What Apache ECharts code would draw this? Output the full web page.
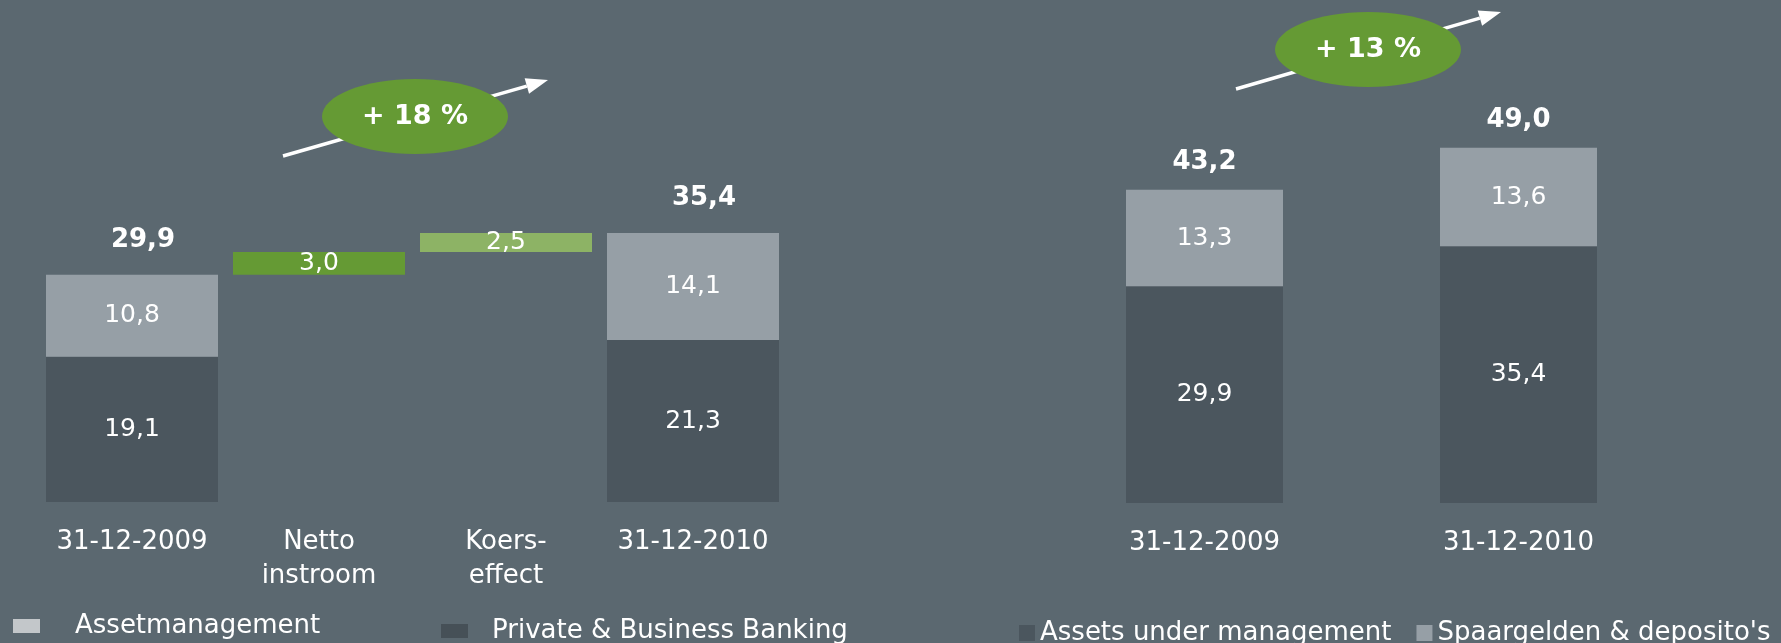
<!DOCTYPE html>
<html>
<head>
<meta charset="utf-8">
<script src="https://cdn.jsdelivr.net/npm/echarts@6/dist/echarts.min.js"></script>
<style>
  html, body { margin: 0; padding: 0; background: #5B6870; }
  #container { width: 1781px; height: 643px; }
</style>
</head>
<body>
<div id="container"></div>
<script>
// linker grafiek: vermogen per divisie + waterval
var leftCategories = ['31-12-2009', 'Netto\ninstroom', 'Koers-\neffect', '31-12-2010'];
var pbbValues = [19.1, '-', '-', 21.3];
var assetValues = [10.8, '-', '-', 14.1];
var changeValues = ['-', 3.0, 2.5, '-'];
var leftTotals = [29.9, '-', '-', 35.4];

// rechter grafiek
var rightCategories = ['31-12-2009', '31-12-2010'];
var aumValues = [29.9, 35.4];
var savingsValues = [13.3, 13.6];
var rightTotals = [43.2, 49.0];

var growthLabels = ['+ 18 %', '+ 13 %'];

// onzichtbare basis voor de watervalstappen
var baseValues = ['-', leftTotals[0], +(leftTotals[0] + changeValues[1]).toFixed(1), '-'];

var DARK = '#4B565E', LIGHT = '#969FA6', GREEN = '#659A34', LGREEN = '#8DB365';
var FONT = 'DejaVu Sans';

function fmt(p) {
    var v = typeof p.value === 'number' ? p.value : parseFloat(p.value);
    return v.toFixed(1).replace('.', ',');
}

var innerLabel = { show: true, position: 'inside', color: '#fff', fontSize: 25, fontFamily: FONT, formatter: fmt };

function arrow(x1, y1, x2, y2) {
    var a = Math.atan2(y2 - y1, x2 - x1);
    var len = 22, hw = 8;
    var bx = x2 - len * Math.cos(a), by = y2 - len * Math.sin(a);
    var px = -Math.sin(a) * hw, py = Math.cos(a) * hw;
    return [
        { type: 'line', z: 10, shape: { x1: x1, y1: y1, x2: bx, y2: by }, style: { stroke: '#fff', lineWidth: 3.5 } },
        { type: 'polygon', z: 10, shape: { points: [[x2, y2], [bx + px, by + py], [bx - px, by - py]] }, style: { fill: '#fff' } }
    ];
}

function bubble(cx, cy, text) {
    return [
        { type: 'ellipse', z: 11, shape: { cx: cx, cy: cy, rx: 93, ry: 37.5 }, style: { fill: GREEN } },
        { type: 'text', z: 12, style: { text: text, x: cx, y: cy, fill: '#fff', font: 'bold 27px "DejaVu Sans"',
            textAlign: 'center', textVerticalAlign: 'middle', align: 'center', verticalAlign: 'middle' } }
    ];
}

var dom = document.getElementById('container');
var myChart = echarts.init(dom);

var option = {
    backgroundColor: '#5B6870',
    animation: false,
    textStyle: { fontFamily: FONT },
    grid: [
        { left: 38.5, width: 748, top: 46, height: 456 },
        { left: 1047.5, width: 628, top: 68, height: 435 }
    ],
    xAxis: [
        {
            type: 'category', gridIndex: 0, data: leftCategories,
            axisLine: { show: false }, axisTick: { show: false },
            axisLabel: { color: '#fff', fontSize: 26, fontFamily: FONT, lineHeight: 34, margin: 23, interval: 0 }
        },
        {
            type: 'category', gridIndex: 1, data: rightCategories,
            axisLine: { show: false }, axisTick: { show: false },
            axisLabel: { color: '#fff', fontSize: 26, fontFamily: FONT, lineHeight: 34, margin: 23, interval: 0 }
        }
    ],
    yAxis: [
        { type: 'value', gridIndex: 0, min: 0, max: 60, show: false },
        { type: 'value', gridIndex: 1, min: 0, max: 60, show: false }
    ],
    legend: [
        {
            left: 13, top: 613, padding: 0, itemWidth: 27, itemHeight: 14, icon: 'rect',
            data: [{ name: 'Assetmanagement', itemStyle: { color: '#C3C7CA' } }],
            textStyle: { color: '#fff', fontSize: 26, fontFamily: FONT, padding: [0, 0, 0, 30] }
        },
        {
            left: 441, top: 618, padding: 0, itemWidth: 27, itemHeight: 14, icon: 'rect',
            data: [{ name: 'Private & Business Banking', itemStyle: { color: '#465057' } }],
            textStyle: { color: '#fff', fontSize: 26, fontFamily: FONT, padding: [0, 0, 0, 19] }
        },
        {
            left: 1019, top: 620, padding: 0, itemWidth: 16, itemHeight: 16, itemGap: 25, icon: 'rect',
            data: ['Assets under management', "Spaargelden & deposito's"],
            textStyle: { color: '#fff', fontSize: 26, fontFamily: FONT }
        }
    ],
    series: [
        {
            name: 'basis', type: 'bar', xAxisIndex: 0, yAxisIndex: 0, stack: 'links', barWidth: 172,
            data: baseValues, itemStyle: { color: 'rgba(0,0,0,0)' }, silent: true
        },
        {
            name: 'Private & Business Banking', type: 'bar', xAxisIndex: 0, yAxisIndex: 0, stack: 'links', barWidth: 172,
            data: pbbValues, itemStyle: { color: DARK }, label: innerLabel
        },
        {
            name: 'Assetmanagement', type: 'bar', xAxisIndex: 0, yAxisIndex: 0, stack: 'links', barWidth: 172,
            data: assetValues, itemStyle: { color: LIGHT }, label: innerLabel
        },
        {
            name: 'mutatie', type: 'bar', xAxisIndex: 0, yAxisIndex: 0, stack: 'links', barWidth: 172,
            data: changeValues.map(function (v, i) {
                return { value: v, itemStyle: { color: i === 1 ? GREEN : LGREEN } };
            }),
            label: innerLabel
        },
        {
            name: 'totaal links', type: 'bar', xAxisIndex: 0, yAxisIndex: 0, barWidth: 172, barGap: '-100%',
            data: leftTotals, itemStyle: { color: 'rgba(0,0,0,0)' }, silent: true,
            label: { show: true, position: 'top', distance: 22, offset: [11, 0], color: '#fff', fontSize: 26, fontWeight: 'bold', fontFamily: FONT, formatter: fmt }
        },
        {
            name: 'Assets under management', type: 'bar', xAxisIndex: 1, yAxisIndex: 1, stack: 'rechts', barWidth: 157,
            data: aumValues, itemStyle: { color: DARK }, label: innerLabel
        },
        {
            name: "Spaargelden & deposito's", type: 'bar', xAxisIndex: 1, yAxisIndex: 1, stack: 'rechts', barWidth: 157,
            data: savingsValues, itemStyle: { color: LIGHT }, label: innerLabel
        },
        {
            name: 'totaal rechts', type: 'bar', xAxisIndex: 1, yAxisIndex: 1, barWidth: 157, barGap: '-100%',
            data: rightTotals, itemStyle: { color: 'rgba(0,0,0,0)' }, silent: true,
            label: { show: true, position: 'top', distance: 15, color: '#fff', fontSize: 26, fontWeight: 'bold', fontFamily: FONT, formatter: fmt }
        }
    ],
    graphic: [].concat(
        arrow(283, 156, 548, 80),
        bubble(415, 116.5, growthLabels[0]),
        arrow(1236, 89, 1501, 12),
        bubble(1368, 49.5, growthLabels[1])
    )
};

myChart.setOption(option, true);
</script>
</body>
</html>
